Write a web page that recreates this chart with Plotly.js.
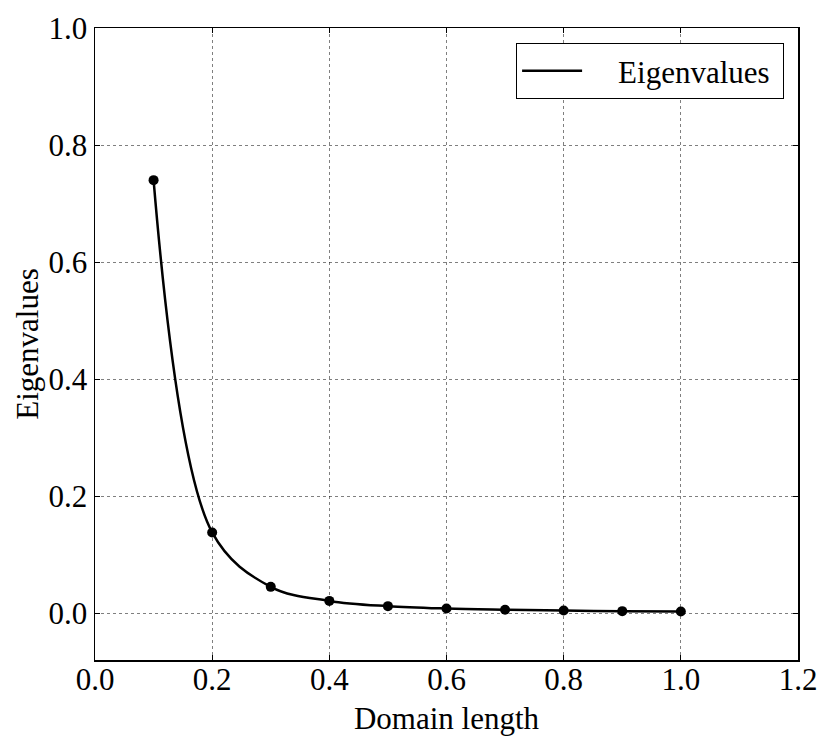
<!DOCTYPE html>
<html>
<head>
<meta charset="utf-8">
<script src="https://cdn.plot.ly/plotly-3.0.1.min.js"></script>
<style>html,body{margin:0;padding:0;background:#fff}</style>
</head>
<body>
<div id="chart" style="width:822px;height:736px"></div>
<script>
const domainLength = [0.1, 0.2, 0.3, 0.4, 0.5, 0.6, 0.7, 0.8, 0.9, 1.0];
const eigenvalues = [0.74, 0.138, 0.045, 0.021, 0.012, 0.008, 0.006, 0.0045, 0.0035, 0.0028];
const xTicks = [0.0, 0.2, 0.4, 0.6, 0.8, 1.0, 1.2];
const yTicks = [0.0, 0.2, 0.4, 0.6, 0.8, 1.0];
const seriesName = 'Eigenvalues';

const FAMILY = 'Liberation Serif';
const FS = 31;

const traces = [
  {x: domainLength, y: eigenvalues, type: 'scatter', mode: 'lines',
   name: '\u00a0\u00a0\u00a0\u00a0' + seriesName + '\u00a0',
   line: {color: '#000', width: 2.5, shape: 'spline', smoothing: 1}, showlegend: true},
  {x: domainLength, y: eigenvalues, type: 'scatter', mode: 'markers', name: seriesName,
   marker: {color: '#000', size: 10}, showlegend: false}
];

function axis(extra) {
  return Object.assign({
    showline: true, linecolor: '#000', linewidth: 1.5, mirror: 'ticks',
    ticks: 'inside', ticklen: 5, tickcolor: '#000', tickwidth: 1,
    showgrid: true, gridcolor: 'rgba(0,0,0,0.5)', griddash: 'dot', gridwidth: 1,
    zeroline: false, tickfont: {family: FAMILY, size: FS, color: '#000'}
  }, extra);
}

const layout = {
  width: 822, height: 736,
  margin: {l: 95, r: 24, t: 28, b: 76},
  paper_bgcolor: '#fff', plot_bgcolor: '#fff',
  font: {family: FAMILY, size: FS, color: '#000'},
  xaxis: axis({
    range: [0, 1.2], tickvals: xTicks, ticktext: xTicks.map(v => v.toFixed(1)),
    ticklabelstandoff: -9,
    title: {text: 'Domain length', font: {family: FAMILY, size: FS, color: '#000'}, standoff: 12}
  }),
  yaxis: axis({
    range: [-0.08, 1.0], tickvals: yTicks, ticktext: yTicks.map(v => v.toFixed(1)),
    title: {text: 'Eigenvalues', font: {family: FAMILY, size: FS, color: '#000'}, standoff: 0}
  }),
  legend: {
    x: 0.599, y: 0.976, xanchor: 'left', yanchor: 'top',
    bordercolor: '#000', borderwidth: 1, bgcolor: '#fff',
    font: {family: FAMILY, size: FS, color: '#000'}, itemwidth: 60
  },
  showlegend: true
};

Plotly.newPlot('chart', traces, layout, {displayModeBar: false, staticPlot: true});
</script>
</body>
</html>
